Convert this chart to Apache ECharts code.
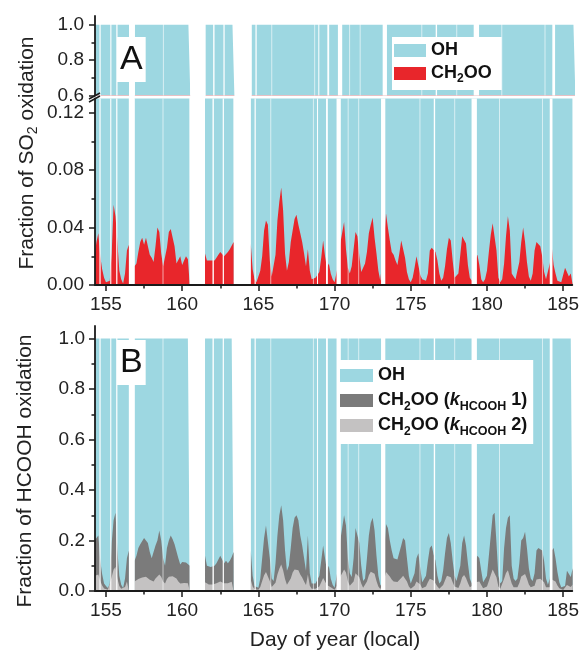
<!DOCTYPE html>
<html><head><meta charset="utf-8">
<script src="https://cdn.jsdelivr.net/npm/echarts@6/dist/echarts.min.js"></script>
<style>html,body{margin:0;padding:0;background:#fff}#c{width:582px;height:652px}</style>
</head><body><div id="c"></div>
<script>
// ---- data (3-hour samples starting at day 154.25) ----
const startDay = 154.25;
const stepDays = 0.125;
const so2CH2OO = [
 0.02,0.03,0.036,0.02,0.011,0.005,
 0.002,0.001,0.003,0.022,0.056,0.048,0.03,0.01,
 0.004,0.001,0.008,0.024,0.028,null,null,0.013,
 0.015,0.023,0.03,0.033,0.028,0.033,0.027,0.021,
 0.019,0.016,0.027,0.04,0.037,0.022,0.013,0.014,
 0.026,0.037,0.039,0.038,0.027,0.015,0.016,0.02,
 0.014,0.017,0.02,0.018,0.017,null,null,null,
 null,null,null,null,0.022,0.017,0.017,0.017,
 0.017,0.017,0.019,0.021,0.023,0.023,0.02,0.02,
 0.023,0.025,0.026,0.03,null,null,null,null,
 null,null,null,null,0.029,0.011,0.004,0.002,
 0.002,0.01,0.02,0.038,0.045,0.042,0.017,0.006,
 0.007,0.021,0.045,0.058,0.068,0.052,0.022,0.01,
 0.016,0.03,0.038,0.046,0.049,0.042,0.036,0.03,
 0.022,0.013,0.025,0.01,0.004,0.004,0.005,0.004,
 0.009,0.019,0.031,0.02,0.012,0.015,0.008,0.004,
 0.002,0.002,0.015,0.029,0.03,0.044,0.025,0.012,
 0.008,0.013,0.025,0.037,0.034,0.02,0.009,0.01,
 0.015,0.023,0.036,0.042,0.047,0.033,0.022,0.01,
 0.003,0.002,0.03,0.05,0.04,0.031,0.023,0.021,
 0.017,0.014,0.022,0.031,0.032,0.019,0.009,0.004,
 0.002,0.005,0.012,0.02,0.02,0.007,0.004,0.004,
 0.003,0.008,0.024,0.026,0.025,0.023,0.017,0.008,
 0.003,0.005,0.013,0.025,0.033,0.031,0.017,0.005,
 0.004,0.008,0.021,0.034,0.035,0.029,0.014,0.005,
 0.003,0.01,0.018,0.021,0.014,0.004,0.002,0.004,
 0.01,0.023,0.035,0.043,0.043,0.024,0.005,0.002,
 0.004,0.015,0.034,0.048,0.038,0.008,0.006,0.004,
 0.005,0.016,0.03,0.04,0.03,0.016,0.006,0.003,
 0.008,0.024,0.03,0.029,0.027,0.02,0.009,0.004,
 0.004,0.015,0.027,0.014,0.008,0.003,0.002,0.002,
 0.003,0.012,0.011,0.006,0.008,0.008
];
const hcoohK1 = [
 0.2,0.21,0.22,0.12,0.066,0.03,
 0.02,0.012,0.03,0.19,0.28,0.31,0.16,0.06,
 0.025,0.012,0.05,0.13,0.16,null,null,0.12,
 0.14,0.17,0.185,0.19,0.21,0.2,0.19,0.155,
 0.13,0.13,0.18,0.2,0.24,0.2,0.13,0.1,
 0.17,0.2,0.22,0.205,0.185,0.18,0.13,0.105,
 0.115,0.11,0.113,0.106,0.1,null,null,null,
 null,null,null,null,0.14,0.1,0.095,0.095,
 0.095,0.1,0.11,0.125,0.14,0.125,0.11,0.12,
 0.11,0.12,0.135,0.155,null,null,null,null,
 null,null,null,null,0.16,0.06,0.02,0.013,
 0.013,0.05,0.13,0.21,0.26,0.26,0.13,0.05,
 0.04,0.11,0.22,0.3,0.34,0.28,0.16,0.08,
 0.1,0.17,0.25,0.29,0.3,0.28,0.22,0.18,
 0.13,0.08,0.22,0.07,0.03,0.025,0.03,0.025,
 0.06,0.12,0.18,0.13,0.08,0.1,0.05,0.025,
 0.013,0.01,0.1,0.2,0.25,0.3,0.26,0.13,
 0.07,0.055,0.13,0.25,0.25,0.19,0.1,0.04,
 0.05,0.13,0.22,0.27,0.29,0.24,0.14,0.06,
 0.025,0.015,0.15,0.265,0.25,0.2,0.16,0.13,
 0.125,0.125,0.13,0.18,0.21,0.2,0.13,0.06,
 0.03,0.035,0.07,0.13,0.15,0.09,0.035,0.03,
 0.06,0.12,0.17,0.18,0.145,0.12,0.06,0.03,
 0.04,0.08,0.15,0.21,0.23,0.19,0.12,0.06,
 0.04,0.04,0.1,0.19,0.22,0.18,0.11,0.05,
 0.03,0.08,0.12,0.14,0.13,0.08,0.035,0.03,
 0.06,0.14,0.22,0.3,0.31,0.19,0.06,0.03,
 0.04,0.17,0.25,0.29,0.3,0.1,0.05,0.04,
 0.05,0.11,0.2,0.21,0.235,0.17,0.09,0.05,
 0.04,0.07,0.16,0.17,0.17,0.16,0.12,0.05,
 0.025,0.05,0.16,0.17,0.13,0.075,0.035,0.015,
 0.013,0.02,0.08,0.075,0.055,0.09
];
const hcoohK2 = [
 0.06,0.062,0.065,0.04,0.022,0.01,
 0.008,0.005,0.01,0.055,0.085,0.095,0.05,0.02,
 0.009,0.005,0.016,0.038,0.045,null,null,0.038,
 0.042,0.048,0.052,0.053,0.058,0.056,0.052,0.045,
 0.038,0.038,0.05,0.055,0.065,0.056,0.038,0.03,
 0.048,0.056,0.062,0.058,0.052,0.05,0.038,0.03,
 0.033,0.032,0.033,0.031,0.03,null,null,null,
 null,null,null,null,0.035,0.028,0.026,0.026,
 0.026,0.028,0.031,0.035,0.038,0.035,0.031,0.033,
 0.031,0.033,0.037,0.042,null,null,null,null,
 null,null,null,null,0.045,0.018,0.007,0.005,
 0.005,0.016,0.04,0.062,0.075,0.075,0.04,0.016,
 0.013,0.033,0.065,0.088,0.105,0.082,0.048,0.025,
 0.03,0.05,0.073,0.085,0.088,0.082,0.065,0.053,
 0.038,0.024,0.065,0.021,0.009,0.008,0.009,0.008,
 0.018,0.035,0.052,0.038,0.024,0.03,0.015,0.008,
 0.005,0.004,0.03,0.057,0.07,0.085,0.073,0.038,
 0.021,0.017,0.038,0.07,0.07,0.054,0.03,0.013,
 0.015,0.038,0.062,0.076,0.082,0.068,0.04,0.018,
 0.008,0.005,0.043,0.075,0.07,0.057,0.046,0.038,
 0.036,0.036,0.038,0.052,0.06,0.057,0.038,0.018,
 0.009,0.011,0.021,0.038,0.043,0.026,0.011,0.009,
 0.018,0.035,0.049,0.052,0.042,0.035,0.018,0.009,
 0.012,0.024,0.043,0.06,0.066,0.054,0.035,0.018,
 0.012,0.012,0.03,0.054,0.063,0.052,0.032,0.015,
 0.009,0.024,0.035,0.04,0.038,0.024,0.011,0.009,
 0.018,0.04,0.063,0.085,0.088,0.054,0.018,0.009,
 0.012,0.049,0.071,0.082,0.085,0.03,0.015,0.012,
 0.015,0.032,0.057,0.06,0.067,0.049,0.026,0.015,
 0.012,0.021,0.046,0.049,0.049,0.046,0.035,0.015,
 0.008,0.015,0.046,0.049,0.038,0.022,0.011,0.005,
 0.004,0.006,0.024,0.022,0.016,0.026
];
// missing-data intervals [start day, end day]
const dataGaps = [[154.57,154.65],[155.28,155.35],[155.67,155.75],[156.52,156.88],[160.49,161.46],
 [161.99,162.08],[162.66,162.74],[163.42,164.49],[164.75,164.83],[168.85,168.9],[169.44,169.56],
 [170.13,170.41],[173.05,173.33],[176.51,176.6],[178.99,179.34],[184.12,184.3]];
const shortGaps = [[158.71,158.76],[165.78,165.83],[168.58,168.62],[170.86,170.9],[171.55,171.6],
 [175.57,175.62],[177.85,177.9],[180.79,180.84],[183.61,183.66]];
const xMajorTicks = [155,160,165,170,175,180,185];
const xMinorTicks = [157.5,162.5,167.5,172.5,177.5,182.5];
const yTopMajor = [0.6,0.8,1.0], yTopMinor = [0.7,0.9];
const yLowMajor = [0,0.04,0.08,0.12], yLowMinor = [0.02,0.06,0.10];
const yBMajor = [0,0.2,0.4,0.6,0.8,1.0], yBMinor = [0.1,0.3,0.5,0.7,0.9];

// ---- build ----
const FONT = "'Liberation Sans', Arial, Helvetica, sans-serif";
const BLUE = '#9DD7E1', RED = '#E8262B', DARK = '#7B7B7B', LIGHT = '#C4C2C2', AXIS = '#1a1a1a';
const X_MIN = 154.28, X_MAX = 185.6;
const days = so2CH2OO.map((_, i) => +(startDay + i * stepDays).toFixed(3));
const pts = arr => arr.map((v, i) => [days[i], v]);
// OH fills the rest of each measured sample up to the total fraction of 1
const total = arr => arr.map((v, i) => [days[i], v == null ? null : 1]);

const chart = echarts.init(document.getElementById('c'), null, {renderer: 'canvas'});

function mainY(gi, min, max, majors, digits, margin) {
  return {type: 'value', gridIndex: gi, position: 'left', min, max, z: 20,
    axisLine: {show: true, onZero: false, lineStyle: {color: AXIS, width: 1.8}},
    axisTick: {show: true, length: 6, customValues: majors, lineStyle: {color: AXIS, width: 1.5}},
    axisLabel: {show: true, customValues: majors, margin, formatter: v => Number(v).toFixed(digits),
      color: '#222', fontSize: 19, fontFamily: FONT},
    splitLine: {show: false}};
}
function minorY(gi, min, max, minors) {
  return {type: 'value', gridIndex: gi, position: 'left', min, max, z: 20,
    axisLine: {show: false}, axisTick: {show: true, length: 3.5, customValues: minors, lineStyle: {color: AXIS, width: 1.5}},
    axisLabel: {show: false}, splitLine: {show: false}};
}
function mainX(gi) {
  return {type: 'value', gridIndex: gi, position: 'bottom', min: X_MIN, max: X_MAX, z: 20,
    axisLine: {show: true, onZero: false, lineStyle: {color: AXIS, width: 1.8}},
    axisTick: {show: true, length: 6, customValues: xMajorTicks, lineStyle: {color: AXIS, width: 1.5}},
    axisLabel: {show: true, customValues: xMajorTicks, margin: 10, color: '#222', fontSize: 19, fontFamily: FONT},
    splitLine: {show: false}};
}
function minorX(gi) {
  return {type: 'value', gridIndex: gi, position: 'bottom', min: X_MIN, max: X_MAX, z: 20,
    axisLine: {show: false}, axisTick: {show: true, length: 3.5, customValues: xMinorTicks, lineStyle: {color: AXIS, width: 1.5}},
    axisLabel: {show: false}, splitLine: {show: false}};
}
function area(name, xi, yi, data, color, z) {
  return {name, type: 'line', xAxisIndex: xi, yAxisIndex: yi, data, z, color,
    showSymbol: false, symbol: 'none', smooth: false, connectNulls: false, silent: true,
    lineStyle: {width: 0, color}, itemStyle: {color}, areaStyle: {color, opacity: 1}};
}
function gapSeries(xi, yi, gaps, opacity) {
  return {type: 'custom', xAxisIndex: xi, yAxisIndex: yi, z: 5, silent: true, data: gaps,
    renderItem(params, api) {
      const cs = params.coordSys;
      const x0 = api.coord([api.value(0), 0])[0];
      const x1 = api.coord([api.value(1), 0])[0];
      const r = echarts.graphic.clipRectByRect({x: x0, y: cs.y, width: Math.max(x1 - x0, 1), height: cs.height},
        {x: cs.x, y: cs.y, width: cs.width, height: cs.height});
      if (!r) return null;
      return {type: 'rect', shape: r, style: {fill: '#fff', opacity}};
    }};
}

const richLegend = lh => ({
  b: {fontSize: 18, fontWeight: 'bold', fontFamily: FONT, color: '#111', lineHeight: lh},
  i: {fontSize: 18, fontWeight: 'bold', fontStyle: 'italic', fontFamily: FONT, color: '#111', lineHeight: lh},
  s: {fontSize: 12, fontWeight: 'bold', fontFamily: FONT, color: '#111', verticalAlign: 'bottom', lineHeight: 13},
  ss: {fontSize: 12.5, fontWeight: 'bold', fontFamily: FONT, color: '#111', verticalAlign: 'bottom', lineHeight: 13}
});
const legendNames = {
  'OH': '{b|OH}',
  'CH2OO': '{b|CH}{s|2}{b|OO}',
  'CH2OO k1': '{b|CH}{s|2}{b|OO (}{i|k}{ss|HCOOH}{b| 1)}',
  'CH2OO k2': '{b|CH}{s|2}{b|OO (}{i|k}{ss|HCOOH}{b| 2)}'
};

const option = {
  animation: false,
  backgroundColor: '#fff',
  grid: [
    {left: 95, right: 7, top: 16, height: 79.5},
    {left: 95, right: 7, top: 98.5, height: 186.5},
    {left: 95, right: 7, top: 326, height: 265}
  ],
  xAxis: [
    {type: 'value', gridIndex: 0, min: X_MIN, max: X_MAX, show: false},
    mainX(1), minorX(1), mainX(2), minorX(2)
  ],
  yAxis: [
    mainY(0, 0.6, 1.05, yTopMajor, 1, 11), minorY(0, 0.6, 1.05, yTopMinor),
    mainY(1, 0, 0.13, yLowMajor, 2, 11), minorY(1, 0, 0.13, yLowMinor),
    mainY(2, 0, 1.05, yBMajor, 1, 10), minorY(2, 0, 1.05, yBMinor)
  ],
  legend: [
    {data: ['OH', 'CH2OO'], orient: 'vertical', left: 392, top: 37, backgroundColor: '#fff', z: 10,
      padding: [2, 10, 5, 2], itemWidth: 32, itemHeight: 13, itemGap: 0, icon: 'rect', selectedMode: false,
      textStyle: {fontSize: 18, fontWeight: 'bold', fontFamily: FONT, color: '#111', lineHeight: 23, rich: richLegend(23)},
      formatter: n => legendNames[n]},
    {data: ['OH', 'CH2OO k1', 'CH2OO k2'], orient: 'vertical', left: 337, top: 360, backgroundColor: '#fff', z: 10,
      padding: [3, 6, 6, 3], itemWidth: 33, itemHeight: 13, itemGap: 0, icon: 'rect', selectedMode: false,
      textStyle: {fontSize: 18, fontWeight: 'bold', fontFamily: FONT, color: '#111', lineHeight: 25, rich: richLegend(25)},
      formatter: n => legendNames[n]}
  ],
  title: [
    {text: 'A', left: 117, top: 37, backgroundColor: '#fff', padding: [6, 3, 5, 3], z: 10,
      textStyle: {fontSize: 34, fontWeight: 'normal', fontFamily: FONT, color: '#111'}},
    {text: 'B', left: 117, top: 340, backgroundColor: '#fff', padding: [6, 3, 5, 3], z: 10,
      textStyle: {fontSize: 34, fontWeight: 'normal', fontFamily: FONT, color: '#111'}}
  ],
  graphic: [
    {type: 'text', x: 27, y: 153, rotation: Math.PI / 2, silent: true,
      style: {text: '{n|Fraction of SO}{s|2}{n| oxidation}', align: 'center', verticalAlign: 'middle',
        rich: {n: {fontSize: 21, fontFamily: FONT, fill: '#222', color: '#222', lineHeight: 26},
               s: {fontSize: 14, fontFamily: FONT, fill: '#222', color: '#222', verticalAlign: 'bottom', lineHeight: 14}}}},
    {type: 'text', x: 25, y: 471, rotation: Math.PI / 2, silent: true,
      style: {text: 'Fraction of HCOOH oxidation', align: 'center', verticalAlign: 'middle',
        fontSize: 21, fontFamily: FONT, fill: '#222'}},
    {type: 'text', x: 335, y: 640, silent: true,
      style: {text: 'Day of year (local)', align: 'center', verticalAlign: 'middle',
        fontSize: 21, fontFamily: FONT, fill: '#222'}},
    {type: 'line', silent: true, z: 100, shape: {x1: 89, y1: 99, x2: 100, y2: 93}, style: {stroke: AXIS, lineWidth: 1.5}},
    {type: 'line', silent: true, z: 100, shape: {x1: 89, y1: 102, x2: 100, y2: 96}, style: {stroke: AXIS, lineWidth: 1.5}}
  ],
  series: [
    area('OH', 0, 0, total(so2CH2OO), BLUE, 1),
    area('CH2OO', 0, 0, pts(so2CH2OO), RED, 2),
    area('OH', 1, 2, total(so2CH2OO), BLUE, 1),
    area('CH2OO', 1, 2, pts(so2CH2OO), RED, 2),
    area('OH', 3, 4, total(hcoohK1), BLUE, 1),
    area('CH2OO k1', 3, 4, pts(hcoohK1), DARK, 2),
    area('CH2OO k2', 3, 4, pts(hcoohK2), LIGHT, 3),
    gapSeries(0, 0, dataGaps, 1), gapSeries(0, 0, shortGaps, 0.6),
    gapSeries(1, 2, dataGaps, 1), gapSeries(1, 2, shortGaps, 0.6),
    gapSeries(3, 4, dataGaps, 1), gapSeries(3, 4, shortGaps, 0.6)
  ]
};
chart.setOption(option);
</script></body></html>
